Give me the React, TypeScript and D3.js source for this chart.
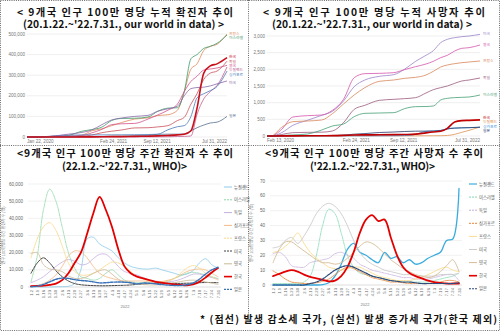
import React from "react";
import * as d3 from "d3";

// ---------- Top-left: cumulative confirmed cases per million (thousands) ----------
const cumCaseDates = ["2020-01-22","2020-03-01","2020-04-15","2020-06-01","2020-08-01","2020-10-01","2020-11-15","2021-01-01","2021-02-15","2021-04-01","2021-06-01","2021-08-01","2021-09-15","2021-11-01","2021-12-15","2022-01-15","2022-02-15","2022-03-15","2022-04-15","2022-05-15","2022-06-15","2022-07-31"];
const casesFrance = [0,0,2,2.5,3,9,30,40,55,70,87,93,104,108,130,220,330,355,420,440,450,500];
const casesIsrael = [0,0,1.3,2,8,28,36,48,80,90,91,97,125,140,142,220,380,400,430,440,455,495];
const casesKorea = [0,0.01,0.2,0.22,0.28,0.45,0.55,1.2,1.6,2,2.8,4,5.5,7,10.5,13,30,140,310,345,355,385];
const casesGermany = [0,0,1.6,2.2,2.5,3.5,9.5,21,28,34,44,45,49,55,80,95,160,210,280,310,320,368];
const casesUK = [0,0,1.5,4,4.5,7,20,37,60,64,66,87,107,130,160,220,270,295,325,330,335,348];
const casesNZ = [0,0,0.2,0.3,0.3,0.4,0.4,0.45,0.47,0.5,0.55,0.6,0.8,1,2.5,3,5,110,185,220,250,340];
const casesSingapore = [0,0.02,0.7,6,9,10,10.2,10.3,10.4,10.6,11,12,13.5,35,50,55,100,190,210,225,245,320];
const casesUS = [0,0,2,5.5,14,22,34,60,83,92,100,105,125,137,150,200,235,240,242,248,258,272];
const casesJapan = [0,0,0.07,0.13,0.3,0.65,0.9,1.9,3.3,3.8,6,7.5,13,13.7,13.8,15,30,45,58,68,72,100];
const cumCaseTicks = [0,100,200,300,400,500];
const cumCaseXTicks = ["2020-01-22","2021-02-24","2021-09-12","2022-07-31"];

// ---------- Top-right: cumulative deaths per million ----------
const cumDeathDates = ["2020-02-13","2020-03-01","2020-04-15","2020-06-01","2020-08-01","2020-10-01","2020-11-15","2021-01-01","2021-02-15","2021-04-01","2021-06-01","2021-08-01","2021-09-15","2021-11-01","2021-12-15","2022-01-15","2022-02-15","2022-03-15","2022-04-15","2022-05-15","2022-06-15","2022-07-31"];
const deathsUS = [0,0,100,320,470,620,740,1050,1480,1680,1790,1840,2000,2240,2420,2560,2800,2900,2950,2980,3000,3050];
const deathsUK = [0,0,200,570,610,630,770,1100,1750,1870,1880,1900,1990,2080,2160,2240,2350,2420,2550,2630,2650,2730];
const deathsFrance = [0,0,260,430,450,480,670,960,1230,1450,1640,1680,1730,1760,1830,1940,2070,2130,2170,2200,2220,2250];
const deathsGermany = [0,0,45,100,110,115,150,400,800,920,1070,1100,1120,1150,1290,1390,1450,1500,1580,1650,1680,1740];
const deathsIsrael = [0,0,15,32,60,180,300,360,580,680,690,700,820,880,885,900,1080,1130,1150,1160,1170,1230];
const deathsKorea = [0,0.3,4,5,6,8,10,18,30,33,37,40,45,55,95,120,140,230,420,460,470,485];
const deathsNZ = [0,0,2,4,4,5,5,5,5,5,5,5,5,5,6,7,8,15,50,110,170,270];
const deathsSingapore = [0,0,2,4,5,5,5,5,5,5,6,8,12,50,140,155,170,220,240,245,250,265];
const deathsJapan = [0,0,1,7,8,12,15,28,55,73,105,120,135,145,146,147,165,210,235,245,250,262];
const cumDeathTicks = [0,500,1000,1500,2000,2500,3000];
const cumDeathXTicks = ["2020-02-13","2021-02-24","2021-09-12","2022-07-31"];

// ---------- Bottom: weekly (WHO), 2022 ----------
const weeks = ["1.2","1.9","1.16","1.23","1.30","2.6","2.13","2.20","2.27","3.6","3.13","3.20","3.27","4.3","4.10","4.17","4.24","5.1","5.8","5.15","5.22","5.29","6.5","6.12","6.19","6.26","7.3","7.10","7.17","7.24","7.31"];

// weekly cases per million (thousands)
const wkCasesNZ = [0,0,0,0,0.1,0.2,0.4,2,10,28,29,25,23,21,17,14,12,11,10.5,10.5,11,10,9,8,7,7.5,9.5,14,16.5,13,11];
const wkCasesIsrael = [3,18,45,57,50,35,20,11,6,5,4,5,8,10,7,4,3,2.5,2.5,2.5,2.5,3,3.5,5,6.5,8,8.5,8,7,6,5];
const wkCasesGermany = [2.5,4,6,9,12,14.5,16,15,13,13.5,16.5,19,19,16,12,9,8,7,5.5,4,3.5,3,3,3.5,4.5,6,7.5,7.5,6.5,5.5,4.5];
const wkCasesSingapore = [0.5,1,2,4,7,12,18,21,20.5,17,12,8,6,5,4,3.5,3.5,3.5,3.5,3,3,3.2,4,5,7,9,10,10.5,10,8,6];
const wkCasesFrance = [17,28,35,37.5,33,24,14,9,7,7,8,10,12.5,14.5,14,12,9,6,4.5,3.5,3,3,3.5,5,8,11,12.5,11,8,6,4];
const wkCasesUS = [8,14,17,14,9.5,6,3.5,2,1.3,1,0.8,0.7,0.7,0.8,0.9,1,1.2,1.5,1.7,2,2.1,2.2,2.2,2.1,2.1,2.2,2.3,2.5,2.6,2.6,2.5];
const wkCasesUK = [19.5,20,13,10.5,10,9,6.5,5,5,6,8,9.5,10,7.5,4.5,3,2.2,1.7,1.4,1.2,1.2,1.3,1.8,2.5,3.2,3.8,4,3.7,3,2.2,1.5];
const wkCasesKorea = [0.5,0.6,0.8,1.3,2,4,8,14,20,31,43,52.5,45,35,22,12,8,6,5,4,3,2.5,2,1.5,1.2,1,1.5,3,5.5,8.5,11];
const wkCasesJapan = [0.1,0.5,1.5,3,4.5,5.2,5,4.3,3.8,3.5,3,2.4,2.5,2.8,2.9,2.8,2.5,1.8,2.3,2.2,1.8,1.4,1.1,0.9,0.9,1.3,2.3,4.5,7.5,10,11.5];
const wkCaseTicks = [0,10,20,30,40,50,60];

// weekly deaths per million
const wkDeathsNZ = [0,0,0,0,0,0,0,0,0.2,1.5,6,14,24,28,22,20,17,15,22,18,19,15,17,14,15,18,20,22,30,31,65];
const wkDeathsIsrael = [1,1,1,1,1,2,6,20,40,51,48,35,20,12,8,7,6,5,4,3,3,2,2,2,2,2,3,4,5,6,8];
const wkDeathsGermany = [21,22,19,13,12,12,15,16,17,18,21,22,20,18,14,12,10,9,8,7,6,5,5,4,4,4,5,6,7,7,3];
const wkDeathsSingapore = [9.5,7,4,2,1.5,1,1,1.5,2.5,4,7,10,12,11,9,7,5,4,3,2,2,1.5,1,1,1,1,1.5,2,3,3,2];
const wkDeathsFrance = [22,23,26,30,35,28,22,18,15,12,11,10,11,12,12,10,8,6,5,4,3,3,3,4,5,7,9,11,12,10,9];
const wkDeathsUS = [25,26,30,32,28,33,40,48,53,55,53,48,40,30,22,17,14,12,10,9,8,7,7,6,6,6,6,7,7,7,8];
const wkDeathsUK = [15,24,29,29,26,23,20,17,15,15,14,15,18,22,26,29,28,25,21,17,14,11,9,7,6,5,6,9,13,17,9];
const wkDeathsKorea = [6,7.5,9,10,9,7,5.5,4.5,3.5,2.5,3,6,12,22,35,44,47,43,44,32,20,12,8,6,4.5,3,2,1.5,1,1,1];
const wkDeathsJapan = [0,0,0,0,0,0,1,2,4,7,10,12,13,12,10,8,6,5,4,3,2.5,2,2,1.5,1,1,1,1,1,1,1.5];
const wkDeathTicks = [0,10,20,30,40,50,60,70];

const KR = "'Noto Sans CJK KR', 'Noto Sans', sans-serif";
const SANS = "'Liberation Sans', Arial, sans-serif";
const parse = d3.timeParse("%Y-%m-%d");
const fmtDate = d3.timeFormat("%b %d, %Y");
const fmtNum = d3.format(",");

type Ser = { name: string; values: number[]; color: string; w: number; dash?: string; labelY?: number };

function CumPanel(props: {
  dates: string[]; series: Ser[]; x0: number; x1: number; y0: number; y1: number; max: number;
  ticks: number[]; tickMul: number; xTicks: string[]; labelX: number;
}) {
  const { dates, series, x0, x1, y0, y1, max, ticks, tickMul, xTicks, labelX } = props;
  const ds = dates.map((d) => parse(d) as Date);
  const x = d3.scaleTime().domain([ds[0], parse("2022-07-31") as Date]).range([x0, x1]);
  const y = d3.scaleLinear().domain([0, max]).range([y0, y1]);
  const line = d3.line<number>().x((_, i) => x(ds[i])).y((v) => y(v)).curve(d3.curveMonotoneX);
  return (
    <g>
      {ticks.map((t) => (
        <g key={t}>
          <line x1={x0} x2={x1} y1={y(t)} y2={y(t)} stroke="#e4e4e4" strokeWidth={0.6} />
          <text x={x0 - 2} y={y(t) + 1.6} fontSize={4.6} fill="#777" textAnchor="end" fontFamily={SANS}>
            {fmtNum(t * tickMul)}
          </text>
        </g>
      ))}
      {xTicks.map((t, i) => {
        const anchor = i === 0 ? "start" : i === xTicks.length - 1 ? "end" : "middle";
        return (
          <text key={t} x={x(parse(t) as Date)} y={y0 + 5.5} fontSize={4.6} fill="#777" textAnchor={anchor} fontFamily={SANS}>
            {fmtDate(parse(t) as Date)}
          </text>
        );
      })}
      {series.map((s) => (
        <path key={s.name} d={line(s.values) || ""} fill="none" stroke={s.color} strokeWidth={s.w} />
      ))}
      {series.map((s) => (
        <text key={"l" + s.name} x={labelX} y={(s.labelY || 0) + 1.4} fontSize={3.8} fill={s.color} fontFamily={KR}>
          {s.name}
        </text>
      ))}
    </g>
  );
}

function WeeklyPanel(props: {
  series: Ser[]; x0: number; x1: number; y0: number; y1: number; max: number; ticks: number[]; tickMul: number;
  legendX: number; legendY: number; legendStep: number; yTitle: string; yTitleX: number; yearX: number;
}) {
  const { series, x0, x1, y0, y1, max, ticks, tickMul, legendX, legendY, legendStep, yTitle, yTitleX, yearX } = props;
  const x = d3.scalePoint<string>().domain(weeks).range([x0, x1]);
  const y = d3.scaleLinear().domain([0, max]).range([y0, y1]);
  const line = d3.line<number>().x((_, i) => x(weeks[i]) as number).y((v) => y(v)).curve(d3.curveCatmullRom.alpha(0.5));
  return (
    <g>
      {ticks.map((t) => (
        <g key={t}>
          {t > 0 && <line x1={x0 - 3} x2={x1 + 3} y1={y(t)} y2={y(t)} stroke="#e2e2e2" strokeWidth={0.5} />}
          <text x={x0 - 8} y={y(t) + 1.6} fontSize={4.6} fill="#666" textAnchor="end" fontFamily={SANS}>
            {fmtNum(t * tickMul)}
          </text>
        </g>
      ))}
      <line x1={x0 - 3} x2={x1 + 3} y1={y0} y2={y0} stroke="#c8c8c8" strokeWidth={0.6} />
      {weeks.map((w) => (
        <text key={w} transform={`translate(${(x(w) as number) + 1.5},${y0 + 3}) rotate(-90)`} fontSize={4.2} fill="#666" textAnchor="end" fontFamily={SANS}>
          {w}
        </text>
      ))}
      <text x={yearX} y={y0 + 21} fontSize={4} fill="#777" textAnchor="middle" fontFamily={SANS}>2022</text>
      <text transform={`translate(${yTitleX},${(y0 + y1) / 2}) rotate(-90)`} fontSize={4} fill="#777" textAnchor="middle" fontFamily={KR}>
        {yTitle}
      </text>
      {series.map((s) => (
        <path key={s.name} d={line(s.values) || ""} fill="none" stroke={s.color} strokeWidth={s.w} strokeDasharray={s.dash} strokeLinecap="round" />
      ))}
      {series.map((s, i) => (
        <g key={"lg" + s.name}>
          <line x1={legendX} x2={legendX + 8} y1={legendY + i * legendStep} y2={legendY + i * legendStep} stroke={s.color} strokeWidth={Math.max(1, s.w * 0.9)} strokeDasharray={s.dash ? "2,1" : undefined} />
          <text x={legendX + 10} y={legendY + i * legendStep + 1.6} fontSize={4.3} fill="#555" fontFamily={KR}>{s.name}</text>
        </g>
      ))}
    </g>
  );
}

function Title(props: { x: number; y: number; w: number; text: string }) {
  return (
    <text x={props.x} y={props.y} fontSize={10.3} fontWeight={700} fontFamily={KR} fill="#111" textLength={props.w} lengthAdjust="spacing">
      {props.text}
    </text>
  );
}

export default function App() {
  const tl: Ser[] = [
    { name: "프랑스", values: casesFrance, color: "#e08a5c", w: 0.8, labelY: 34 },
    { name: "이스라엘", values: casesIsrael, color: "#3f9a6a", w: 0.8, labelY: 38 },
    { name: "독일", values: casesGermany, color: "#c8505a", w: 0.8, labelY: 62 },
    { name: "영국", values: casesUK, color: "#d4508c", w: 0.8, labelY: 66 },
    { name: "뉴질랜드", values: casesNZ, color: "#c06090", w: 0.8, labelY: 70 },
    { name: "싱가포르", values: casesSingapore, color: "#4a78b8", w: 0.8, labelY: 75 },
    { name: "미국", values: casesUS, color: "#8a6aa8", w: 0.8, labelY: 83 },
    { name: "일본", values: casesJapan, color: "#5a7090", w: 0.8, labelY: 116 },
    { name: "한국", values: casesKorea, color: "#c8101a", w: 1.6, labelY: 57 },
  ];
  const tr: Ser[] = [
    { name: "미국", values: deathsUS, color: "#9a84c8", w: 0.8, labelY: 34 },
    { name: "영국", values: deathsUK, color: "#d455ac", w: 0.8, labelY: 45 },
    { name: "프랑스", values: deathsFrance, color: "#d8875a", w: 0.8, labelY: 61 },
    { name: "독일", values: deathsGermany, color: "#9a5a7c", w: 0.8, labelY: 78 },
    { name: "이스라엘", values: deathsIsrael, color: "#45a075", w: 0.8, labelY: 95 },
    { name: "뉴질랜드", values: deathsNZ, color: "#e09050", w: 0.8, labelY: 122 },
    { name: "싱가포르", values: deathsSingapore, color: "#3890d8", w: 0.8, labelY: 126.5 },
    { name: "일본", values: deathsJapan, color: "#2a3a68", w: 0.8, labelY: 131 },
    { name: "한국", values: deathsKorea, color: "#c00000", w: 1.6, labelY: 118 },
  ];
  const bl: Ser[] = [
    { name: "뉴질랜드", values: wkCasesNZ, color: "#8ccbea", w: 0.8 },
    { name: "이스라엘", values: wkCasesIsrael, color: "#8fd6a8", w: 0.8, dash: "1.5,1" },
    { name: "독일", values: wkCasesGermany, color: "#c4aedf", w: 0.8 },
    { name: "싱가포르", values: wkCasesSingapore, color: "#f5b987", w: 0.8 },
    { name: "프랑스", values: wkCasesFrance, color: "#f8d98e", w: 0.9, dash: "1.5,1" },
    { name: "미국", values: wkCasesUS, color: "#404040", w: 1, dash: "2,1" },
    { name: "영국", values: wkCasesUK, color: "#cbb994", w: 0.8 },
    { name: "한국", values: wkCasesKorea, color: "#e30000", w: 1.8 },
    { name: "일본", values: wkCasesJapan, color: "#3a72b8", w: 1.4, dash: "2.5,1.2" },
  ];
  const br: Ser[] = [
    { name: "뉴질랜드", values: wkDeathsNZ, color: "#3aabdf", w: 1.3 },
    { name: "이스라엘", values: wkDeathsIsrael, color: "#84d8b2", w: 0.8, dash: "1.5,1" },
    { name: "독일", values: wkDeathsGermany, color: "#c6b0de", w: 0.8, dash: "1.5,1" },
    { name: "싱가포르", values: wkDeathsSingapore, color: "#e8843a", w: 0.9, dash: "1.5,1" },
    { name: "프랑스", values: wkDeathsFrance, color: "#f8dc90", w: 0.9 },
    { name: "미국", values: wkDeathsUS, color: "#cccccc", w: 0.9 },
    { name: "영국", values: wkDeathsUK, color: "#d6bc96", w: 0.9 },
    { name: "한국", values: wkDeathsKorea, color: "#e30000", w: 1.8 },
    { name: "일본", values: wkDeathsJapan, color: "#2c4a7a", w: 1.2, dash: "2,1" },
  ];
  return (
    <svg width={500} height={331} viewBox="0 0 500 331" style={{ position: "absolute", left: 0, top: 0, background: "#fff" }}>
      <rect x={0} y={0} width={500} height={331} fill="#fff" />
      <rect x={0.5} y={0.5} width={499} height={330} fill="none" stroke="#444" strokeWidth={0.8} strokeDasharray="1,1.2" />
      <line x1={0} x2={500} y1={145.5} y2={145.5} stroke="#444" strokeWidth={0.8} strokeDasharray="1,1.2" />
      <line x1={248.5} x2={248.5} y1={0} y2={315} stroke="#444" strokeWidth={0.8} strokeDasharray="1,1.2" />

      <Title x={17} y={15.5} w={216} text="< 9개국 인구 100만 명당 누적 확진자 추이" />
      <Title x={23} y={28} w={201} text="(20.1.22.~'22.7.31., our world in data) >" />
      <Title x={263} y={15.5} w={222} text="< 9개국 인구 100만 명당 누적 사망자 추이" />
      <Title x={272} y={28} w={200} text="(20.1.22.~'22.7.31., our world in data) >" />
      <Title x={17} y={157} w={216} text="<9개국 인구 100만 명당 주간 확진자 수 추이" />
      <Title x={62} y={169.5} w={125} text="(22.1.2.~'22.7.31., WHO)>" />
      <Title x={265} y={157} w={218} text="<9개국 인구 100만 명당 주간 사망자 수 추이" />
      <Title x={310} y={169.5} w={125} text="('22.1.2.~'22.7.31., WHO)>" />

      <CumPanel dates={cumCaseDates} series={tl} x0={27} x1={227} y0={137} y1={34} max={500} ticks={cumCaseTicks} tickMul={1000} xTicks={cumCaseXTicks} labelX={229} />
      <CumPanel dates={cumDeathDates} series={tr} x0={267} x1={480} y0={136} y1={36} max={3000} ticks={cumDeathTicks} tickMul={1} xTicks={cumDeathXTicks} labelX={483} />

      <WeeklyPanel series={bl} x0={31} x1={218} y0={287} y1={184} max={60} ticks={wkCaseTicks} tickMul={1000}
        legendX={224} legendY={187} legendStep={12.8} yTitle="인구 100만명당 주간 확진자 수 (명)" yTitleX={5} yearX={125} />
      <WeeklyPanel series={br} x0={273} x1={459} y0={285} y1={181} max={70} ticks={wkDeathTicks} tickMul={1}
        legendX={469} legendY={184} legendStep={13.1} yTitle="인구 100만명당 주간 사망자 수 (명)" yTitleX={253} yearX={365} />

      <text x={200} y={323} fontSize={10} fontWeight={700} fontFamily={KR} fill="#111" textLength={297} lengthAdjust="spacing">
        * (점선) 발생 감소세 국가, (실선) 발생 증가세 국가(한국 제외)
      </text>
    </svg>
  );
}
